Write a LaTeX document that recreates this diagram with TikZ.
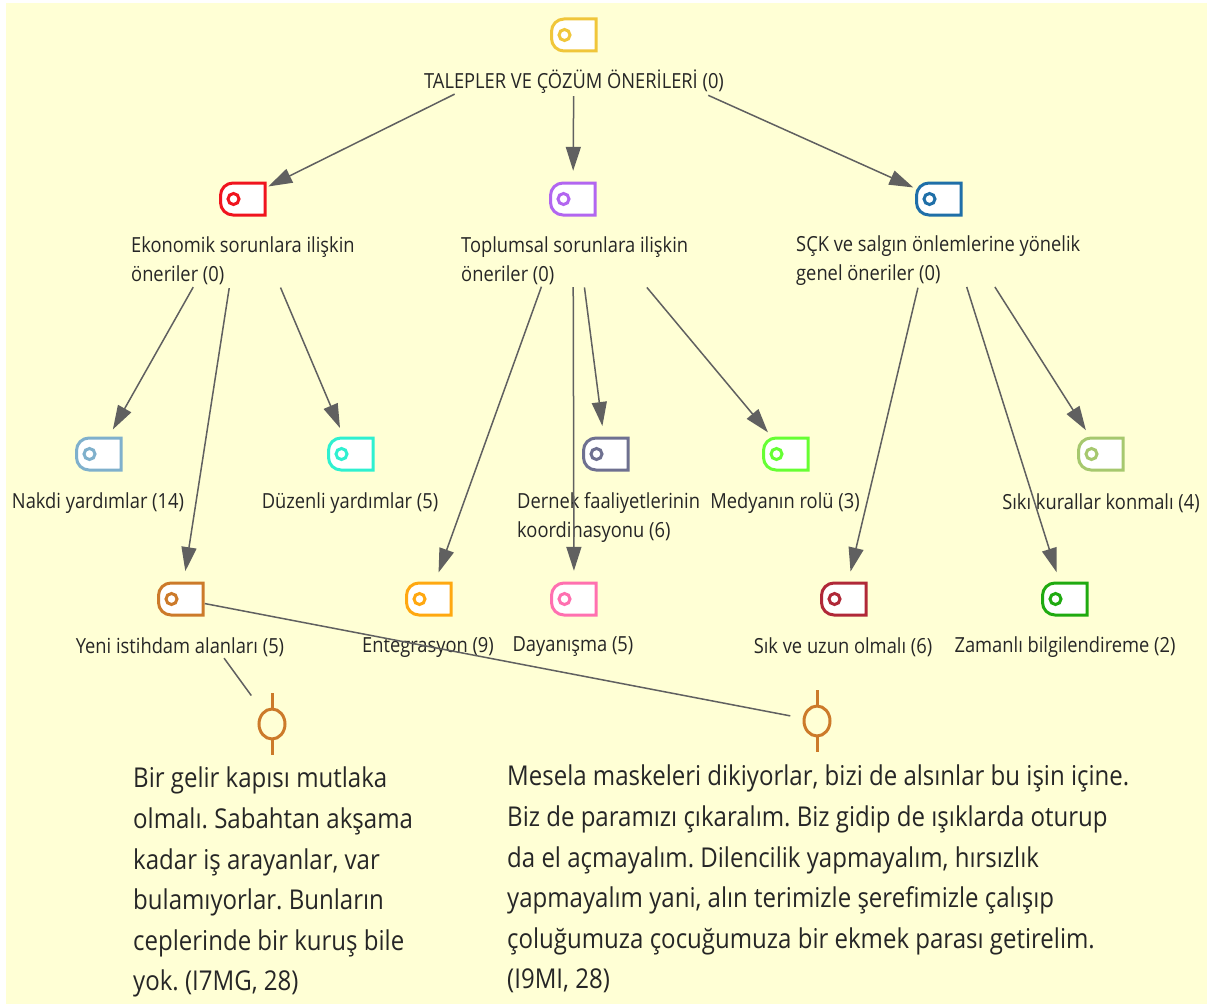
\documentclass[tikz,border=0pt]{standalone}
\usepackage{fontspec}
\setmainfont{Open Sans}[FakeStretch=0.88]
\usetikzlibrary{arrows.meta}
\definecolor{paper}{HTML}{FFFFD5}
\definecolor{linkgray}{HTML}{606060}
\definecolor{memoorange}{HTML}{CC7A2A}
\tikzset{
  tagspot/.style={circle,minimum size=56pt,inner sep=0pt,draw=none},
  memospot/.style={circle,minimum size=54pt,inner sep=0pt,draw=none},
  tagline/.style={line width=3pt,fill=white,line join=miter},
  lbl/.style={font=\fontsize{20.8}{29}\selectfont,inner sep=0pt,text=black!85},
  memotext/.style={font=\fontsize{27.3}{40.6}\selectfont,inner sep=0pt,align=left,anchor=north west,text=black!85},
  arrow/.style={draw=linkgray,line width=1.5pt,-{Triangle[length=24pt,width=15pt]}},
  plainlink/.style={draw=linkgray,line width=1.5pt}
}
\begin{document}
\frenchspacing
\begin{tikzpicture}[x=1pt,y=-1pt]
\useasboundingbox (0,0) rectangle (1207,1006);
\fill[paper] (6,3) rectangle (1207,1004);

% Code tags
\foreach \tagname/\x/\y/\col in {root/574/35/F0C63A, eco/243/199/F0141E, social/573/199/B266F0, sck/939/199/1F6FA8,
    nakdi/99/454/7FB0CC, duzenli/351/454/2EF0D0, dernek/606/454/6E7090, medya/786/454/66FF33, siki/1101/454/A6C86E,
    yeni/181/599/CC7A2A, entegr/429/599/FFA810, dayan/574/599/FF70B0, sikuzun/844/599/B02838, zaman/1065/599/1FAA10} {
  \definecolor{tagcol}{HTML}{\col}
  \node[tagspot] (\tagname) at (\x,\y) {};
  \draw[tagline,draw=tagcol] (\x+22,\y-16) -- (\x-10,\y-16) arc[start angle=90,end angle=180,radius=12.5pt] -- (\x-22.5,\y+3.5) arc[start angle=180,end angle=270,radius=12.5pt] -- (\x+22,\y+16) -- cycle;
  \draw[draw=tagcol,line width=3pt] (\x-9.5,\y) circle (5.5);
}

% Labels
\node[lbl] (rootlbl) at (574,82) {TALEPLER VE ÇÖZÜM ÖNERİLERİ (0)};
\node[lbl,align=left,anchor=west] (ecolbl) at (131,261) {Ekonomik sorunlara ilişkin\\öneriler (0)};
\node[lbl,align=left,anchor=west] (sociallbl) at (461,261) {Toplumsal sorunlara ilişkin\\öneriler (0)};
\node[lbl,align=left,anchor=west] (scklbl) at (796,261) {SÇK ve salgın önlemlerine yönelik\\genel öneriler (0)};
\node[lbl,align=left,anchor=west] (dernlbl) at (517,518) {Dernek faaliyetlerinin\\koordinasyonu (6)};
\foreach \lblname/\x/\y/\txt in {nakdilbl/98/503/Nakdi yardımlar (14), duzlbl/350/503/Düzenli yardımlar (5),
    medlbl/785/503/Medyanın rolü (3), sikilbl/1101/503/Sıkı kurallar konmalı (4),
    yenilbl/180/647/Yeni istihdam alanları (5), entlbl/428/647/Entegrasyon (9), daylbl/573/647/Dayanışma (5),
    siklbl/843/647/Sık ve uzun olmalı (6), zamlbl/1065/647/Zamanlı bilgilendireme (2)} {
  \node[lbl] (\lblname) at (\x,\y) {\txt};
}

% Arrows between tags
\draw[arrow,shorten <=105pt] (root) -- (eco);
\draw[arrow,shorten <=33pt] (root) -- (social);
\draw[arrow,shorten <=119pt] (root) -- (sck);
\draw[arrow,shorten <=73pt] (eco) -- (nakdi);
\draw[arrow,shorten <=62pt] (eco) -- (yeni);
\draw[arrow,shorten <=68pt] (eco) -- (duzenli);
\draw[arrow,shorten <=65pt] (social) -- (entegr);
\draw[arrow,shorten <=60pt] (social) -- (dayan);
\draw[arrow,shorten <=61pt] (social) -- (dernek);
\draw[arrow,shorten <=87pt] (social) -- (medya);
\draw[arrow,shorten <=63pt] (sck) -- (sikuzun);
\draw[arrow,shorten <=64pt] (sck) -- (zaman);
\draw[arrow,shorten <=76pt] (sck) -- (siki);

% Memos
\node[memospot] (memoa) at (272,724) {};
\node[memospot] (memob) at (817,721) {};
\foreach \m in {memoa,memob} {
  \draw[memoorange,line width=3pt] (\m) ellipse (13 and 15);
  \draw[memoorange,line width=3pt] ([yshift=15pt]\m.center) -- ([yshift=31pt]\m.center);
  \draw[memoorange,line width=3pt] ([yshift=-15pt]\m.center) -- ([yshift=-31pt]\m.center);
}
\draw[plainlink,shorten <=45pt,shorten >=8pt] (yeni) -- (memoa);
\draw[plainlink,shorten <=-4pt] (yeni) -- (memob);

\node[memotext] (memoatxt) at (133,767) {Bir gelir kapısı mutlaka\\olmalı. Sabahtan akşama\\kadar iş arayanlar, var\\bulamıyorlar. Bunların\\ceplerinde bir kuruş bile\\yok. (I7MG, 28)};
\node[memotext] (memobtxt) at (507,765) {Mesela maskeleri dikiyorlar, bizi de alsınlar bu işin içine.\\Biz de paramızı çıkaralım. Biz gidip de ışıklarda oturup\\da el açmayalım. Dilencilik yapmayalım, hırsızlık\\yapmayalım yani, alın terimizle şerefimizle çalışıp\\çoluğumuza çocuğumuza bir ekmek parası getirelim.\\(I9MI, 28)};
\end{tikzpicture}
\end{document}
